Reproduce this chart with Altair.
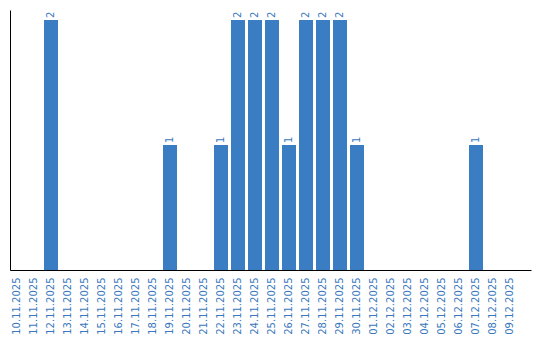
import altair as alt
import pandas as pd

dates = ["10.11.2025", "11.11.2025", "12.11.2025", "13.11.2025", "14.11.2025",
         "15.11.2025", "16.11.2025", "17.11.2025", "18.11.2025", "19.11.2025",
         "20.11.2025", "21.11.2025", "22.11.2025", "23.11.2025", "24.11.2025",
         "25.11.2025", "26.11.2025", "27.11.2025", "28.11.2025", "29.11.2025",
         "30.11.2025", "01.12.2025", "02.12.2025", "03.12.2025", "04.12.2025",
         "05.12.2025", "06.12.2025", "07.12.2025", "08.12.2025", "09.12.2025"]
counts = [0, 0, 2, 0, 0, 0, 0, 0, 0, 1,
          0, 0, 1, 2, 2, 2, 1, 2, 2, 2,
          1, 0, 0, 0, 0, 0, 0, 1, 0, 0]

df = pd.DataFrame({"date": dates, "count": counts})

BAR = "#3b7dc2"
TXT = "#3a78bd"

x = alt.X("date:N", sort=dates, title=None,
          scale=alt.Scale(paddingInner=0.176, paddingOuter=0.4115, align=0),
          axis=alt.Axis(labelAngle=270, labelAlign="right", labelBaseline="middle",
                        labelPadding=7, ticks=False, domainColor="#000000",
                        labelColor=TXT, labelFont="DejaVu Sans", labelFontSize=10,
                        labelOverlap=False, grid=False))
y = alt.Y("count:Q", title=None, scale=alt.Scale(domain=[0, 2.08], nice=False),
          axis=alt.Axis(labels=False, ticks=False, grid=False, domainColor="#000000"))

bars = alt.Chart(df).mark_bar(color=BAR).encode(x=x, y=y)
labels = alt.Chart(df).transform_filter("datum.count > 0").mark_text(
    angle=270, align="left", baseline="middle", dx=2,
    font="DejaVu Sans", fontSize=10, color=TXT
).encode(x=alt.X("date:N", sort=dates), y="count:Q", text="count:Q")

chart = (bars + labels).properties(
    width=521, height=260,
    autosize=alt.AutoSizeParams(type="none"),
    padding={"left": 10, "top": 10, "right": 9, "bottom": 70},
    background="white",
).configure_view(stroke=None)

chart.save("out.html", embed_options={"renderer": "svg", "actions": False})
